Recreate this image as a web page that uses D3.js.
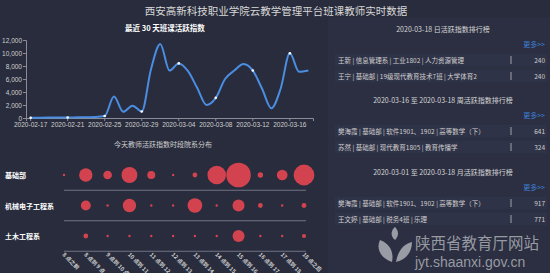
<!DOCTYPE html>
<html>
<head>
<meta charset="utf-8">
<script src="https://cdn.jsdelivr.net/npm/d3@7/dist/d3.min.js"></script>
<style>
  body { margin: 0; background: #282c3c; }
  svg { display: block; font-family: "Noto Sans CJK SC", "Noto Sans", sans-serif; }
</style>
</head>
<body>
<div id="chart"></div>
<script>
// line chart: last 30 days
var dates = ["2020-02-17","2020-02-18","2020-02-19","2020-02-20","2020-02-21","2020-02-22","2020-02-23","2020-02-24",
  "2020-02-25","2020-02-26","2020-02-27","2020-02-28","2020-02-29","2020-03-01","2020-03-02","2020-03-03",
  "2020-03-04","2020-03-05","2020-03-06","2020-03-07","2020-03-08","2020-03-09","2020-03-10","2020-03-11",
  "2020-03-12","2020-03-13","2020-03-14","2020-03-15","2020-03-16","2020-03-17","2020-03-18"];
var activity = [50, 50, 60, 80, 80, 100, 120, 150, 300, 3300, 950, 1900, 1000, 7500, 11400, 7300,
  8400, 7200, 4600, 2000, 3100, 6000, 7300, 8300, 7300, 4500, 1500, 4500, 9950, 7100, 7300];
var yTicks = [0, 2000, 4000, 6000, 8000, 10000, 12000];

// bubble chart: today by department and hour
var departments = ["基础部", "机械电子工程系", "土木工程系"];
var hours = ["8 点之前","8 点到 9 点","9 点到 10 点","10 点到 11 点","11 点到 12 点","12 点到 13 点",
  "13 点到 14 点","14 点到 15 点","15 点到 16 点","16 点到 17 点","17 点到 18 点","18 点之后"];
var deptValues = [
  [1, 31, 13, 44, 11, 1, 4, 60, 105, 5, 20, 75],
  [0, 17, 1, 31, 1, 1, 37, 1, 25, 4, 1, 4],
  [0, 4, 1, 1, 1, 1, 1, 1, 25, 1, 1, 3]
];

// ranking lists
var rankTitles = ["2020-03-18 日活跃指数排行榜", "2020-03-16 至 2020-03-18 周活跃指数排行榜", "2020-03-01 至 2020-03-18 月活跃指数排行榜"];
var rankNames = [
  ["王新 | 信息管理系 | 工业1802 | 人力资源管理", "王宁 | 基础部 | 19级现代教育技术7班 | 大学体育2"],
  ["樊海霞 | 基础部 | 软件1901、1902 | 高等数学（下）", "苏然 | 基础部 | 现代教育1805 | 教育传播学"],
  ["樊海霞 | 基础部 | 软件1901、1902 | 高等数学（下）", "王文婷 | 基础部 | 税务4班 | 乐理"]
];
var rankScores = [[240, 240], [641, 324], [917, 771]];

var W = 550, H = 273;
var svg = d3.select("#chart").append("svg").attr("width", W).attr("height", H);
svg.append("rect").attr("width", W).attr("height", H).attr("fill", "#282c3c");
svg.append("rect").attr("x", 328).attr("y", 18).attr("width", 222).attr("height", 255).attr("fill", "#2b2f41");

svg.append("text").attr("x", 276).attr("y", 15).attr("text-anchor", "middle")
  .attr("fill", "#d8d8d8").style("font-size", "10.5px")
  .text("西安高新科技职业学院云教学管理平台班课教师实时数据");

// ---- line chart
var x = d3.scaleBand().domain(dates).range([26, 313]);
var y = d3.scaleLinear().domain([0, 12000]).range([118, 40]);
var cx = function(d) { return x(d) + x.bandwidth() / 2; };

svg.append("text").attr("x", 165).attr("y", 31).attr("text-anchor", "middle")
  .attr("fill", "#ffffff").style("font-size", "7.5px").style("font-weight", "bold")
  .text("最近 30 天班课活跃指数");

var gy = svg.append("g").attr("transform", "translate(26,0)")
  .call(d3.axisLeft(y).tickValues(yTicks).tickSize(3).tickFormat(d3.format(",")));
gy.select(".domain").attr("stroke", "#8a8d99");
gy.selectAll(".tick line").attr("stroke", "#8a8d99");
gy.selectAll("text").attr("fill", "#cfcfcf").style("font-size", "6.5px").attr("x", -4);

var shown = dates.filter(function(d, i) { return i % 4 === 0; });
var gx = svg.append("g").attr("transform", "translate(0,118)")
  .call(d3.axisBottom(x).tickValues(shown).tickSize(3));
gx.select(".domain").attr("stroke", "#8a8d99");
gx.selectAll(".tick line").attr("stroke", "#8a8d99");
gx.selectAll("text").attr("fill", "#cfcfcf").style("font-size", "6.5px").attr("y", 4);

var line = d3.line()
  .x(function(d, i) { return cx(dates[i]); })
  .y(function(d) { return y(d); })
  .curve(d3.curveMonotoneX);

svg.append("path").datum(activity).attr("d", line)
  .attr("fill", "none").attr("stroke", "#4b8de0").attr("stroke-width", 2);

svg.append("g").selectAll("circle")
  .data(activity.filter(function(d, i) { return i % 4 === 0; }))
  .enter().append("circle")
  .attr("cx", function(d, i) { return cx(dates[i * 4]); })
  .attr("cy", function(d) { return y(d); })
  .attr("r", 1.3).attr("fill", "#ffffff");

// ---- bubble chart
svg.append("text").attr("x", 163).attr("y", 147).attr("text-anchor", "middle")
  .attr("fill", "#cfcfcf").style("font-size", "7px")
  .text("今天教师活跃指数时段院系分布");

var bx = d3.scalePoint().domain(hours).range([64, 304]);
var by = d3.scalePoint().domain(departments).range([175, 236]);
var r = d3.scaleSqrt().domain([0, 105]).range([0, 12.3]);
var rowH = 30.5;

svg.append("g").selectAll("line").data(departments).enter().append("line")
  .attr("x1", 64).attr("x2", 306)
  .attr("y1", function(d) { return by(d) + rowH / 2; })
  .attr("y2", function(d) { return by(d) + rowH / 2; })
  .attr("stroke", "#6f7384").attr("stroke-width", 1);

svg.append("g").selectAll("text").data(departments).enter().append("text")
  .attr("x", 5).attr("y", function(d) { return by(d) + 3; })
  .attr("fill", "#ffffff").style("font-size", "7px").style("font-weight", "bold")
  .text(function(d) { return d; });

departments.forEach(function(dep, j) {
  svg.append("g").selectAll("circle")
    .data(deptValues[j].map(function(v, i) { return { h: hours[i], v: v }; }).filter(function(d) { return d.v > 0; }))
    .enter().append("circle")
    .attr("cx", function(d) { return bx(d.h); })
    .attr("cy", by(dep))
    .attr("r", function(d) { return r(d.v); })
    .attr("fill", "#dc4450").attr("fill-opacity", 0.95);
});

svg.append("g").selectAll("text").data(hours).enter().append("text")
  .attr("transform", function(d) { return "translate(" + (bx(d) - 2) + ",255) rotate(45)"; })
  .attr("fill", "#d0d0d0").style("font-size", "5.5px").style("font-weight", "bold")
  .text(function(d) { return d; });

// ---- ranking lists
var blockY = [30, 101, 173];
rankTitles.forEach(function(t, k) {
  var y0 = blockY[k];
  svg.append("text").attr("x", 443).attr("y", y0 + 2).attr("text-anchor", "middle")
    .attr("fill", "#d6d6d6").style("font-size", "7px").text(t);
  svg.append("text").attr("x", 545).attr("y", y0 + 17).attr("text-anchor", "end")
    .attr("fill", "#3f7fd6").style("font-size", "7px").text("更多>>");
  var rows = svg.append("g").selectAll("g").data(rankNames[k]).enter().append("g")
    .attr("transform", function(d, i) { return "translate(0," + (y0 + 30 + i * 16) + ")"; });
  rows.append("rect").attr("x", 335).attr("y", -6.5).attr("width", 212).attr("height", 13)
    .attr("fill", "#2f3347");
  rows.append("text").attr("x", 338).attr("y", 2.5).attr("fill", "#cfcfcf")
    .style("font-size", "6.5px").text(function(d) { return d; });
  rows.append("line").attr("x1", 511).attr("x2", 511).attr("y1", -4).attr("y2", 4)
    .attr("stroke", "#bfbfbf").attr("stroke-width", 0.8);
  rows.append("text").attr("x", 545).attr("y", 2.5).attr("text-anchor", "end")
    .attr("fill", "#cfcfcf").style("font-size", "6.5px")
    .text(function(d, i) { return rankScores[k][i]; });
});

// ---- watermark
var wm = svg.append("g").attr("fill", "#c9cad0").attr("fill-opacity", 0.7);
wm.append("path").attr("d", "M392,262 C380,258 376,248 380,240 C390,244 394,252 392,262 Z");
wm.append("path").attr("d", "M396,262 C398,250 404,244 412,242 C412,252 406,260 396,262 Z");
wm.append("path").attr("d", "M395,240 C390,236 391,230 395,227 C399,231 399,236 395,240 Z");
wm.append("text").attr("x", 415).attr("y", 249).style("font-size", "15.5px")
  .style("font-family", "'Noto Sans CJK SC', serif").text("陕西省教育厅网站");
wm.append("text").attr("x", 415).attr("y", 267).style("font-size", "14px")
  .style("font-family", "'Liberation Sans', sans-serif").text("jyt.shaanxi.gov.cn");
</script>
</body>
</html>
